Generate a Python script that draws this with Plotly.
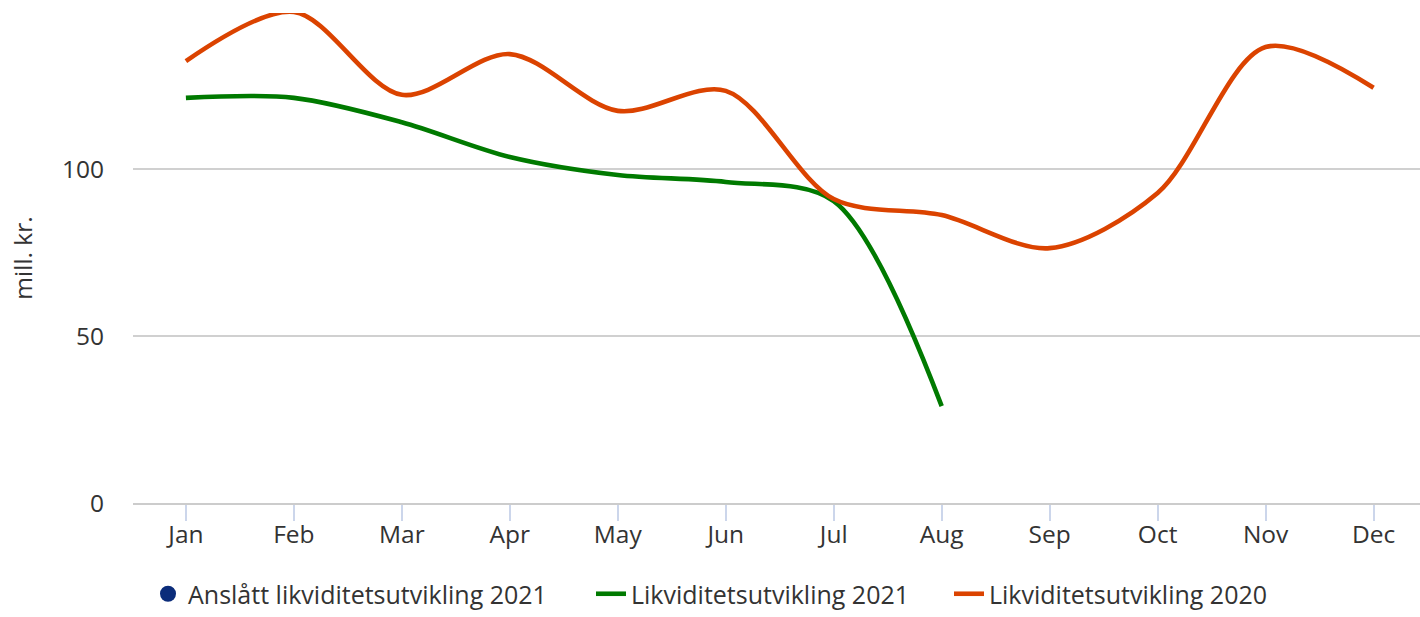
import plotly.graph_objects as go

months = ["Jan", "Feb", "Mar", "Apr", "May", "Jun", "Jul", "Aug", "Sep", "Oct", "Nov", "Dec"]
likv_2021 = [121.3, 121.3, 114.0, 103.6, 98.2, 96.1, 90.4, 29.0]
likv_2020 = [132.3, 147.0, 122.2, 134.4, 117.4, 123.4, 91.0, 86.2, 76.3, 92.8, 136.5, 124.3]
anslatt_2021 = []

names = ["Anslått likviditetsutvikling 2021", "Likviditetsutvikling 2021", "Likviditetsutvikling 2020"]
colors = ["#0B2C7A", "#007A00", "#DB4300"]

font_family = "Open Sans, Noto Sans, sans-serif"
fs = 24.5
W, H = 1420, 617

fig = go.Figure()
fig.add_trace(go.Scatter(
    x=months[:len(anslatt_2021)] if anslatt_2021 else [None],
    y=anslatt_2021 if anslatt_2021 else [None],
    mode="markers", name=names[0], legend="legend",
    marker=dict(color=colors[0], size=20, symbol="circle"),
))
fig.add_trace(go.Scatter(
    x=months[:len(likv_2021)], y=likv_2021, mode="lines", name=names[1], legend="legend2",
    line=dict(color=colors[1], width=4.6, shape="spline", smoothing=0.9),
))
fig.add_trace(go.Scatter(
    x=months, y=likv_2020, mode="lines", name=names[2], legend="legend3",
    line=dict(color=colors[2], width=4.6, shape="spline", smoothing=0.9),
))

def leg(left_px):
    return dict(orientation="h", xref="container", yref="container",
                x=left_px / W, xanchor="left",
                y=-0.014, yanchor="bottom",
                font=dict(size=fs + 0.5, color="#333333"), itemwidth=30,
                itemsizing="trace",
                bgcolor="rgba(0,0,0,0)")

fig.update_layout(
    width=W, height=H,
    margin=dict(l=133, r=0, t=13, b=114),
    plot_bgcolor="white", paper_bgcolor="white",
    font=dict(family=font_family, size=fs, color="#333333"),
    showlegend=True,
    legend=leg(148),
    legend2=leg(591),
    legend3=leg(949),
    xaxis=dict(
        type="category", categoryorder="array", categoryarray=months,
        range=[-0.49, 11.43],
        showgrid=False, showline=True, linecolor="#cccccc", linewidth=2,
        ticks="outside", ticklen=16, tickcolor="#ccd6eb", tickwidth=1.5,
        tickfont=dict(size=fs, color="#333333"),
        ticklabelstandoff=-7,
        zeroline=False,
    ),
    yaxis=dict(
        range=[0, 146.7], tickvals=[0, 50, 100],
        showgrid=True, gridcolor="#d0d0d0", gridwidth=1.5,
        zeroline=False, showline=False,
        tickfont=dict(size=fs, color="#333333"),
        ticklabelstandoff=28,
        title=dict(text="mill. kr.", font=dict(size=fs, color="#333333"), standoff=22),
    ),
)

fig.write_html("out.html", post_script="document.body.style.margin='0';",
               config={"displayModeBar": False})
